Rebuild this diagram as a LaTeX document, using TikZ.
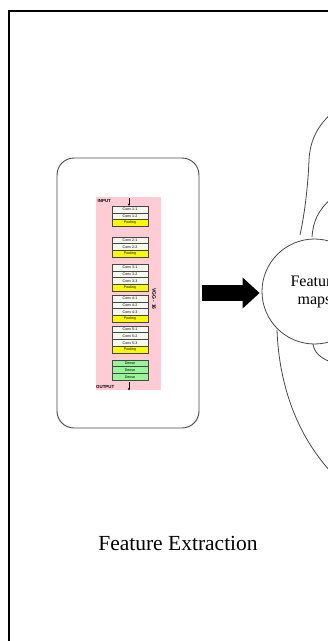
\documentclass[tikz,border=0pt]{standalone}
\usepackage{fontspec}
\setmainfont{Liberation Serif}
\setsansfont{Liberation Sans}
\usetikzlibrary{arrows.meta,positioning,shapes}
\definecolor{vggpink}{RGB}{255,204,214}
\definecolor{convwhite}{RGB}{244,248,238}
\definecolor{poolyellow}{RGB}{250,250,0}
\definecolor{densegreen}{RGB}{150,245,150}
\definecolor{edgegray}{RGB}{70,70,70}
\tikzset{
    %Define style for the rounded box
    box/.style={
           rectangle,
           rounded corners=17pt,
           draw=edgegray, line width=0.9pt,
           minimum width=142pt,
           minimum height=270pt},
    %Define style for the vgg layers
    layer/.style={
           rectangle,
           draw=edgegray, line width=0.5pt,
           minimum width=36pt,
           minimum height=6.75pt,
           inner sep=0pt, outer sep=0pt,
           font=\sffamily\fontsize{3.6}{4}\selectfont},
    conv/.style={layer, fill=convwhite},
    pool/.style={layer, fill=poolyellow},
    dense/.style={layer, fill=densegreen},
    tag/.style={
           inner sep=0pt,
           font=\sffamily\bfseries\fontsize{4.4}{5}\selectfont},
    fmapcirc/.style={
           circle,
           draw=edgegray, line width=0.8pt,
           minimum size=105pt,
           align=center,
           font=\fontsize{16}{18}\selectfont},
    blob/.style={
           draw=edgegray, line width=0.8pt},
    % Define arrow styles
    bigarr/.style={
           -{Triangle[length=17pt,width=30pt]},
           line width=16pt,
           shorten <=3pt,
           shorten >=2pt},
    smallarr/.style={
           -{Stealth[length=2.5pt,width=2.2pt]},
           line width=0.4pt}
}
\begin{document}
\begin{tikzpicture}[x=1pt,y=-1pt]
  \useasboundingbox (0,0) rectangle (328,641);
  \clip (0,0) rectangle (328,641);
  \draw[line width=2.2pt] (8.6,11.2) rectangle (345,660);

  \node[box] (vggbox) at (128,293) {};
  \node[fill=vggpink, minimum width=65pt, minimum height=193pt, inner sep=0pt] (vggpanel) at (128.5,293.5) {};

  \node[conv] (c11) at (130,209.4) {Conv 1-1};
  \node[conv, below=0pt of c11] (c12) {Conv 1-2};
  \node[pool, below=0pt of c12] (p1) {Pooling};
  \node[conv, below=10.7pt of p1] (c21) {Conv 2-1};
  \node[conv, below=0pt of c21] (c22) {Conv 2-2};
  \node[pool, below=0pt of c22] (p2) {Pooling};
  \node[conv, below=7pt of p2] (c31) {Conv 3-1};
  \node[conv, below=0pt of c31] (c32) {Conv 3-2};
  \node[conv, below=0pt of c32] (c33) {Conv 3-3};
  \node[pool, below=0pt of c33] (p3) {Pooling};
  \node[conv, below=4pt of p3] (c41) {Conv 4-1};
  \node[conv, below=0pt of c41] (c42) {Conv 4-2};
  \node[conv, below=0pt of c42] (c43) {Conv 4-3};
  \node[pool, below=0pt of c43] (p4) {Pooling};
  \node[conv, below=3.7pt of p4] (c51) {Conv 5-1};
  \node[conv, below=0pt of c51] (c52) {Conv 5-2};
  \node[conv, below=0pt of c52] (c53) {Conv 5-3};
  \node[pool, below=0pt of c53] (p5) {Pooling};
  \node[dense, below=7pt of p5] (d1) {Dense};
  \node[dense, below=0pt of d1] (d2) {Dense};
  \node[dense, below=0pt of d2] (d3) {Dense};

  \node[tag, anchor=west] (input) at (97.5,201.5) {INPUT};
  \node[tag, anchor=west] (output) at (96,386.5) {OUTPUT};
  \node[tag, rotate=-90, font=\sffamily\bfseries\fontsize{5}{6}\selectfont] (vggname) at (154,299) {VGG - 16};
  \coordinate (inarr) at (129,198);
  \coordinate (outarr) at (129,390.5);
  \draw[smallarr] (inarr) -- (inarr |- c11.north);
  \draw[smallarr, shorten <=2pt] (outarr |- d3.south) -- (outarr);

  \node[fmapcirc] (fmap) at (314.5,291.5) {Feature\\maps};
  \draw[bigarr] (vggbox.east) -- (vggbox.east -| fmap.west);

  % cut-off outlines on the right
  \draw[blob] (300,235) .. controls (305,212) and (308,185) .. (309,160)
    .. controls (310,140) and (318,125) .. (333,112);
  \draw[blob] (312,237) .. controls (313,222) and (318,210) .. (331,199);
  \draw[blob] (313,344) .. controls (314,352) and (320,358) .. (331,362);
  \draw[blob] (277,330) .. controls (279,385) and (297,435) .. (331,472);

  \node[font=\fontsize{21.5}{24}\selectfont] (featext) at (178,543) {Feature Extraction};
\end{tikzpicture}
\end{document}
